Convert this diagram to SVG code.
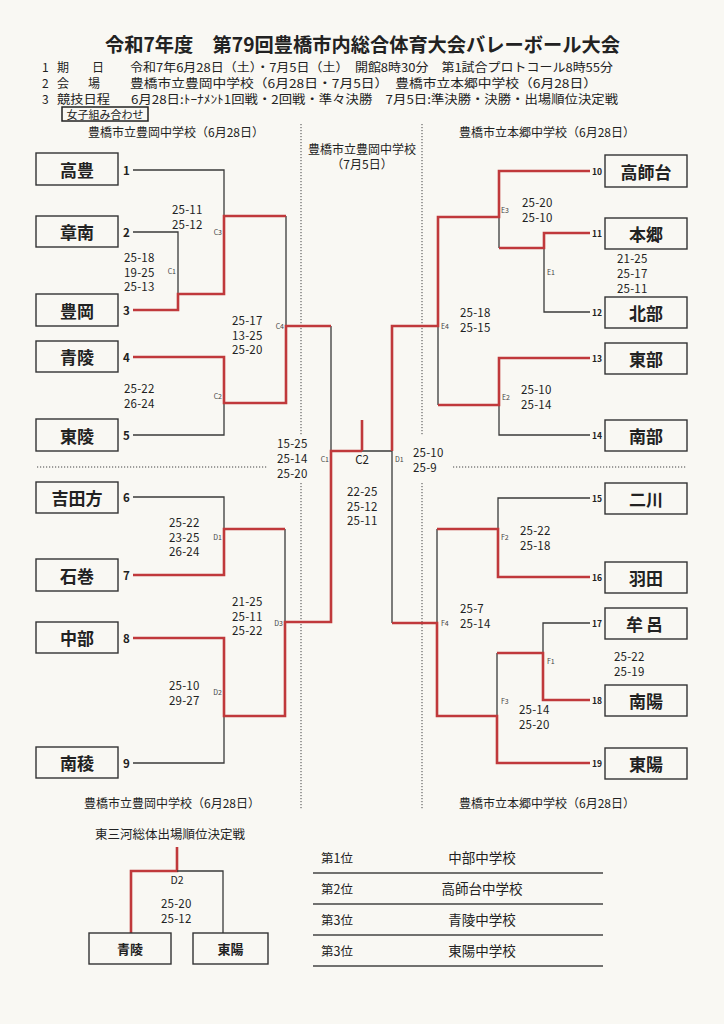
<svg xmlns="http://www.w3.org/2000/svg" width="724" height="1024" viewBox="0 0 724 1024">
<style>
.jp{font-family:"Noto Sans CJK JP","Noto Sans",sans-serif;fill:#222}
.title{font-size:19.5px;font-weight:700}
.info{font-size:12px;dominant-baseline:central}
.hdr{font-size:12px;text-anchor:middle;dominant-baseline:central}
.box{fill:none;stroke:#333;stroke-width:1.4}
.team{font-size:17px;font-weight:700;text-anchor:middle;dominant-baseline:central}
.num{font-size:11.5px;font-weight:700;dominant-baseline:central}
.rnum{font-size:8.5px;font-weight:700;dominant-baseline:central}
.sc{font-size:11.5px;dominant-baseline:central;letter-spacing:0.2px}
.ml{font-size:7px;dominant-baseline:central;fill:#444}
.mle{font-size:7px;dominant-baseline:central;text-anchor:end;fill:#444}
.blk{fill:none;stroke:#3a3a3a;stroke-width:1.3}
.red{fill:none;stroke:#c0393b;stroke-width:2.6}
.dot{fill:none;stroke:#444;stroke-width:1;stroke-dasharray:1.2 1.8}
.rule{fill:none;stroke:#444;stroke-width:1.5}
.rank{font-size:12.5px;dominant-baseline:central}
.school{font-size:13.5px;dominant-baseline:central;text-anchor:middle}
</style>
<rect width="724" height="1024" fill="#f9f8f3"/>

<g id="header" class="jp">
<text class="title" x="362.5" y="52" text-anchor="middle" textLength="515" lengthAdjust="spacingAndGlyphs">令和7年度　第79回豊橋市内総合体育大会バレーボール大会</text>
<text class="info" x="42" y="66">1</text><text class="info" x="57" y="66">期</text><text class="info" x="92" y="66">日</text>
<text class="info" x="130" y="66" textLength="483" lengthAdjust="spacingAndGlyphs">令和7年6月28日（土）・7月5日（土）　開館8時30分　第1試合プロトコール8時55分</text>
<text class="info" x="42" y="82">2</text><text class="info" x="57" y="82">会</text><text class="info" x="88" y="82">場</text>
<text class="info" x="130" y="82" textLength="467" lengthAdjust="spacingAndGlyphs">豊橋市立豊岡中学校（6月28日・7月5日）　豊橋市立本郷中学校（6月28日）</text>
<text class="info" x="42" y="98">3</text><text class="info" x="57" y="98" textLength="53" lengthAdjust="spacingAndGlyphs">競技日程</text>
<text class="info" x="131" y="98" textLength="487" lengthAdjust="spacingAndGlyphs">6月28日:ﾄｰﾅﾒﾝﾄ1回戦・2回戦・準々決勝　7月5日:準決勝・決勝・出場順位決定戦</text>
</g>

<g id="label-girls" class="jp">
<rect x="62" y="107" width="86" height="14" fill="none" stroke="#222" stroke-width="1.5"/>
<text x="105" y="114" font-size="11" text-anchor="middle" dominant-baseline="central">女子組み合わせ</text>
</g>

<g id="venue-headers" class="jp">
<text class="hdr" x="176" y="131">豊橋市立豊岡中学校（6月28日）</text>
<text class="hdr" x="547" y="131">豊橋市立本郷中学校（6月28日）</text>
<text class="hdr" x="362" y="148" font-size="11.5">豊橋市立豊岡中学校</text>
<text class="hdr" x="362" y="163" font-size="11.5">（7月5日）</text>
<text class="hdr" x="172" y="802">豊橋市立豊岡中学校（6月28日）</text>
<text class="hdr" x="547" y="802">豊橋市立本郷中学校（6月28日）</text>
</g>

<g id="dividers">
<path class="dot" d="M301,124 V435 M301,483 V810 M422,124 V435 M422,483 V810 M37,467 H268 M453,467 H686"/>
</g>

<g id="connectors">
<path class="blk" d="M133,170 H224 V216 M133,232 H178 V294 M286,216 V326 M331,326 V451 M224,403 V435 H133 M133,497 H224 V529 M285,529 V622 M224,716 V763 H133 M362,451 H392 M392,451 V623 M499,217 V248 M544,248 V312 H590 M438,326 V405 M499,405 V435 H590 M590,498 H498 V529 M437,529 V623 M590,623 H543 V653 M497,653 V716"/>
<path class="red" d="M133,310 H178 V294 H224 V216 H286"/>
<path class="red" d="M133,357 H224 V403 H286 V326 H331"/>
<path class="red" d="M133,575 H224 V529 H285"/>
<path class="red" d="M133,638 H224 V716 H285 V622 H331 V451 H362"/>
<path class="red" d="M362,420 V451"/>
<path class="red" d="M590,171 H499 V217 H438 V326 H392 V451"/>
<path class="red" d="M590,233 H544 V248 H499"/>
<path class="red" d="M590,358 H499 V405 H438"/>
<path class="red" d="M590,577 H498 V529 H437"/>
<path class="red" d="M392,623 H437 V716 H497 V763 H590"/>
<path class="red" d="M590,700 H543 V653 H497"/>
<path class="red" d="M177,847 V871 H131 V933"/>
<path class="blk" d="M177,871 H223 V933"/>
</g>

<g id="team-1" class="jp"><rect class="box" x="36" y="153" width="82" height="32"/><text class="team" x="77" y="169">高豊</text><text class="num" x="123" y="170">1</text></g>
<g id="team-2" class="jp"><rect class="box" x="36" y="216" width="82" height="31"/><text class="team" x="77" y="231.5">章南</text><text class="num" x="123" y="232">2</text></g>
<g id="team-3" class="jp"><rect class="box" x="36" y="294" width="82" height="32"/><text class="team" x="77" y="310">豊岡</text><text class="num" x="123" y="310">3</text></g>
<g id="team-4" class="jp"><rect class="box" x="36" y="341" width="82" height="31"/><text class="team" x="77" y="356.5">青陵</text><text class="num" x="123" y="357">4</text></g>
<g id="team-5" class="jp"><rect class="box" x="36" y="419" width="82" height="32"/><text class="team" x="77" y="435">東陵</text><text class="num" x="123" y="435">5</text></g>
<g id="team-6" class="jp"><rect class="box" x="36" y="482" width="82" height="31"/><text class="team" x="77" y="497.5">吉田方</text><text class="num" x="123" y="497">6</text></g>
<g id="team-7" class="jp"><rect class="box" x="36" y="559" width="82" height="32"/><text class="team" x="77" y="575">石巻</text><text class="num" x="123" y="575">7</text></g>
<g id="team-8" class="jp"><rect class="box" x="36" y="622" width="82" height="31"/><text class="team" x="77" y="637.5">中部</text><text class="num" x="123" y="638">8</text></g>
<g id="team-9" class="jp"><rect class="box" x="36" y="747" width="82" height="31"/><text class="team" x="77" y="762.5">南稜</text><text class="num" x="123" y="763">9</text></g>

<g id="team-10" class="jp"><rect class="box" x="605" y="155" width="82" height="32"/><text class="team" x="646" y="171">高師台</text><text class="rnum" x="592" y="171">10</text></g>
<g id="team-11" class="jp"><rect class="box" x="605" y="218" width="82" height="31"/><text class="team" x="646" y="233.5">本郷</text><text class="rnum" x="592" y="233">11</text></g>
<g id="team-12" class="jp"><rect class="box" x="605" y="297" width="82" height="31"/><text class="team" x="646" y="312.5">北部</text><text class="rnum" x="592" y="312">12</text></g>
<g id="team-13" class="jp"><rect class="box" x="605" y="343" width="82" height="31"/><text class="team" x="646" y="358.5">東部</text><text class="rnum" x="592" y="358">13</text></g>
<g id="team-14" class="jp"><rect class="box" x="605" y="420" width="82" height="31"/><text class="team" x="646" y="435.5">南部</text><text class="rnum" x="592" y="435">14</text></g>
<g id="team-15" class="jp"><rect class="box" x="605" y="483" width="82" height="31"/><text class="team" x="646" y="498.5">二川</text><text class="rnum" x="592" y="498">15</text></g>
<g id="team-16" class="jp"><rect class="box" x="605" y="562" width="82" height="31"/><text class="team" x="646" y="577.5">羽田</text><text class="rnum" x="592" y="577">16</text></g>
<g id="team-17" class="jp"><rect class="box" x="605" y="608" width="82" height="31"/><text class="team" x="646" y="623.5" letter-spacing="3">牟呂</text><text class="rnum" x="592" y="623">17</text></g>
<g id="team-18" class="jp"><rect class="box" x="605" y="685" width="82" height="31"/><text class="team" x="646" y="700.5">南陽</text><text class="rnum" x="592" y="700">18</text></g>
<g id="team-19" class="jp"><rect class="box" x="605" y="748" width="82" height="31"/><text class="team" x="646" y="763.5">東陽</text><text class="rnum" x="592" y="763">19</text></g>

<g id="match-C3" class="jp"><text class="mle" x="222" y="232">C3</text><text class="sc" x="172" y="209">25-11</text><text class="sc" x="172" y="223.5">25-12</text></g>
<g id="match-C1a" class="jp"><text class="mle" x="176" y="271">C1</text><text class="sc" x="124" y="257">25-18</text><text class="sc" x="124" y="271.5">19-25</text><text class="sc" x="124" y="286">25-13</text></g>
<g id="match-C4" class="jp"><text class="mle" x="284" y="326">C4</text><text class="sc" x="232" y="320">25-17</text><text class="sc" x="232" y="334.5">13-25</text><text class="sc" x="232" y="349">25-20</text></g>
<g id="match-C2a" class="jp"><text class="mle" x="222" y="396">C2</text><text class="sc" x="124" y="388">25-22</text><text class="sc" x="124" y="402.5">26-24</text></g>
<g id="match-C1" class="jp"><text class="mle" x="329" y="459">C1</text><text class="sc" x="277" y="443">15-25</text><text class="sc" x="277" y="458">25-14</text><text class="sc" x="277" y="473">25-20</text></g>
<g id="match-C2" class="jp"><text x="362" y="459" font-size="11.5" text-anchor="middle" dominant-baseline="central">C2</text><text class="sc" x="347" y="491">22-25</text><text class="sc" x="347" y="505.5">25-12</text><text class="sc" x="347" y="520">25-11</text></g>
<g id="match-D1" class="jp"><text class="ml" x="395" y="459">D1</text><text class="sc" x="413" y="452">25-10</text><text class="sc" x="413" y="466.5">25-9</text></g>
<g id="match-D1a" class="jp"><text class="mle" x="222" y="537">D1</text><text class="sc" x="169" y="522">25-22</text><text class="sc" x="169" y="536.5">23-25</text><text class="sc" x="169" y="551">26-24</text></g>
<g id="match-D3" class="jp"><text class="mle" x="283" y="623">D3</text><text class="sc" x="232" y="601">21-25</text><text class="sc" x="232" y="615.5">25-11</text><text class="sc" x="232" y="630">25-22</text></g>
<g id="match-D2a" class="jp"><text class="mle" x="222" y="692">D2</text><text class="sc" x="169" y="685">25-10</text><text class="sc" x="169" y="700">29-27</text></g>
<g id="match-E3" class="jp"><text class="ml" x="501" y="210">E3</text><text class="sc" x="522" y="202">25-20</text><text class="sc" x="522" y="217">25-10</text></g>
<g id="match-E1" class="jp"><text class="ml" x="547" y="272">E1</text><text class="sc" x="617" y="258">21-25</text><text class="sc" x="617" y="273">25-17</text><text class="sc" x="617" y="288">25-11</text></g>
<g id="match-E4" class="jp"><text class="ml" x="441" y="326">E4</text><text class="sc" x="460" y="312">25-18</text><text class="sc" x="460" y="326.5">25-15</text></g>
<g id="match-E2" class="jp"><text class="ml" x="502" y="397">E2</text><text class="sc" x="521" y="389">25-10</text><text class="sc" x="521" y="404">25-14</text></g>
<g id="match-F2" class="jp"><text class="ml" x="501" y="537">F2</text><text class="sc" x="520" y="530">25-22</text><text class="sc" x="520" y="545">25-18</text></g>
<g id="match-F4" class="jp"><text class="ml" x="441" y="623">F4</text><text class="sc" x="460" y="608">25-7</text><text class="sc" x="460" y="623">25-14</text></g>
<g id="match-F1" class="jp"><text class="ml" x="547" y="661">F1</text><text class="sc" x="614" y="656">25-22</text><text class="sc" x="614" y="670.5">25-19</text></g>
<g id="match-F3" class="jp"><text class="ml" x="501" y="701">F3</text><text class="sc" x="519" y="709">25-14</text><text class="sc" x="519" y="724">25-20</text></g>

<g id="placement-match" class="jp">
<text x="95" y="833" font-size="12.5" dominant-baseline="central">東三河総体出場順位決定戦</text>
<text x="177" y="879" font-size="10.5" text-anchor="middle" dominant-baseline="central">D2</text>
<text class="sc" x="161" y="903">25-20</text><text class="sc" x="161" y="918">25-12</text>
</g>
<g id="final-seiryo" class="jp"><rect class="box" x="89" y="933" width="82" height="31"/><text x="130" y="948.5" font-size="13" font-weight="700" text-anchor="middle" dominant-baseline="central">青陵</text></g>
<g id="final-toyo" class="jp"><rect class="box" x="193" y="933" width="75" height="31"/><text x="230.5" y="948.5" font-size="13" font-weight="700" text-anchor="middle" dominant-baseline="central">東陽</text></g>

<g id="ranking" class="jp">
<path class="rule" d="M313,873 H603 M313,904 H603 M313,935 H603 M313,966 H603"/>
<text class="rank" x="321" y="857">第1位</text><text class="school" x="482" y="857">中部中学校</text>
<text class="rank" x="321" y="888">第2位</text><text class="school" x="482" y="888">高師台中学校</text>
<text class="rank" x="321" y="919">第3位</text><text class="school" x="482" y="919">青陵中学校</text>
<text class="rank" x="321" y="950">第3位</text><text class="school" x="482" y="950">東陽中学校</text>
</g>
</svg>
